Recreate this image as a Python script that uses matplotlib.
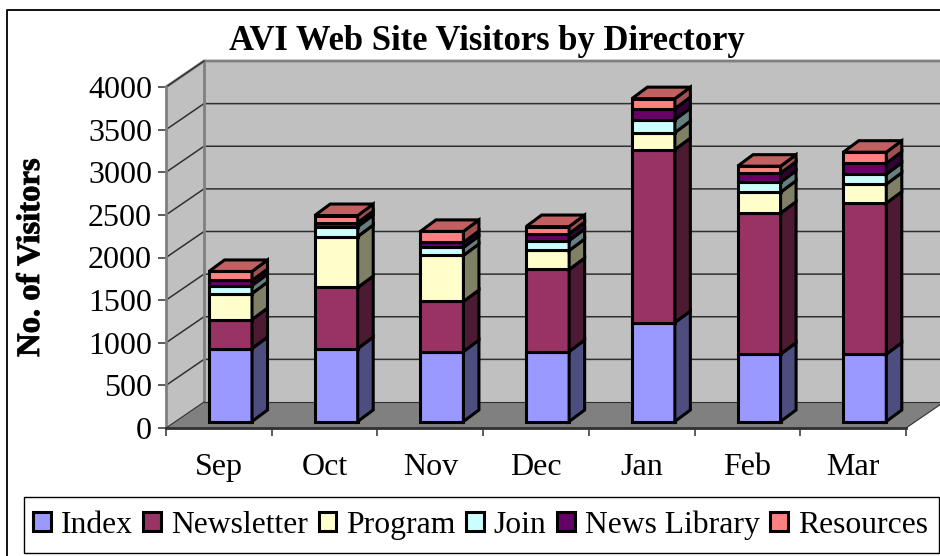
import matplotlib
matplotlib.use("Agg")
import matplotlib.pyplot as plt
import matplotlib.patheffects as pe
import numpy as np
from matplotlib.lines import Line2D
from matplotlib.patches import Patch, Polygon, Rectangle

plt.rcParams["font.family"] = ["Liberation Serif", "DejaVu Serif"]

months = ["Sep", "Oct", "Nov", "Dec", "Jan", "Feb", "Mar"]
index_vals = [856, 856, 821, 821, 1161, 790, 790]
newsletter = [340, 716, 587, 962, 2029, 1654, 1771]
program = [305, 598, 540, 223, 199, 246, 223]
join = [94, 117, 94, 117, 152, 117, 117]
news_library = [59, 47, 59, 82, 129, 106, 129]
resources = [106, 82, 129, 82, 117, 82, 129]

series_names = ["Index", "Newsletter", "Program", "Join", "News Library", "Resources"]
series_vals = [index_vals, newsletter, program, join, news_library, resources]
front_colors = ["#9999FF", "#993366", "#FFFFCC", "#CCFFFF", "#660066", "#FF8080"]
side_colors = ["#4D4D80", "#4D1A33", "#808066", "#668080", "#330033", "#A05050"]
top_color = "#C06060"

W, H = 940, 556
PX_X = 740 / 7       # pixels per category
PX_Y = 341 / 4000    # pixels per visitor

# 3d depth of the box and the bars, in data units
DX = 38 / PX_X
DY = 26 / PX_Y
BAR_W = 43 / PX_X
BAR_SHIFT_X = 11.65 / PX_X
BAR_SHIFT_Y = 6.5 / PX_Y
BAR_DX = 15.5 / PX_X
BAR_DY = 11.5 / PX_Y

fig = plt.figure(figsize=(W / 100, H / 100), dpi=100, facecolor="white")
ax = fig.add_axes([166 / W, (H - 428) / H, 740 / W, 341 / H])
ax.set_xlim(0, 7)
ax.set_ylim(0, 4000)
ax.patch.set_visible(False)
for s in ax.spines.values():
    s.set_visible(False)

# walls and floor
ax.add_patch(Polygon([(DX, DY), (7 + DX, DY), (7 + DX, 4000 + DY), (DX, 4000 + DY)],
                     fc="#C0C0C0", ec="none", clip_on=False, zorder=1))
ax.add_patch(Polygon([(0, 0), (DX, DY), (DX, 4000 + DY), (0, 4000)],
                     fc="#C0C0C0", ec="none", clip_on=False, zorder=1))
ax.add_patch(Polygon([(0, 0), (7, 0), (7 + DX, DY), (DX, DY)],
                     fc="#808080", ec="none", clip_on=False, zorder=1))

# gridlines
for v in range(500, 4000, 500):
    ax.plot([0, DX, 7 + DX], [v, v + DY, v + DY], color="#303030", lw=1.1,
            clip_on=False, zorder=2)

gray = "#808080"
ax.plot([DX, DX], [DY, 4000 + DY], color=gray, lw=2, clip_on=False, zorder=2)
ax.plot([0, DX, 7 + DX], [4000, 4000 + DY, 4000 + DY], color=gray, lw=2, clip_on=False, zorder=2)
ax.plot([0, DX], [4000, 4000 + DY], color="#303030", lw=1, clip_on=False, zorder=2)
ax.plot([0, 0], [0, 4000], color=gray, lw=2, clip_on=False, zorder=2)
ax.plot([DX, 7 + DX], [DY, DY], color="#303030", lw=0.8, clip_on=False, zorder=2)
ax.plot([0, DX], [0, DY], color="#303030", lw=0.8, clip_on=False, zorder=2)
ax.plot([7, 7 + DX], [0, DY], color="#303030", lw=0.8, clip_on=False, zorder=2)
ax.plot([0, 7], [0, 0], color="#303030", lw=2, clip_on=False, zorder=2)

# stacked 3d bars
edge = dict(ec="black", lw=2.2, joinstyle="miter", clip_on=False, zorder=3)
for i in range(len(months)):
    x0 = i + 0.5 + BAR_SHIFT_X - BAR_W / 2
    x1 = x0 + BAR_W
    base = BAR_SHIFT_Y
    for vals, fc, sc in zip(series_vals, front_colors, side_colors):
        y0, y1 = base, base + vals[i]
        ax.add_patch(Polygon([(x0, y0), (x1, y0), (x1, y1), (x0, y1)], fc=fc, **edge))
        ax.add_patch(Polygon([(x1, y0), (x1 + BAR_DX, y0 + BAR_DY),
                              (x1 + BAR_DX, y1 + BAR_DY), (x1, y1)], fc=sc, **edge))
        base = y1
    ax.add_patch(Polygon([(x0, base), (x1, base), (x1 + BAR_DX, base + BAR_DY),
                          (x0 + BAR_DX, base + BAR_DY)], fc=top_color, **edge))

# ticks
ax.set_yticks(np.arange(0, 4001, 500))
ax.set_xticks(np.arange(0, 8))
ax.set_xticklabels([])
ax.set_xticks(np.arange(7) + 0.5, months, minor=True)
ax.tick_params(axis="y", labelsize=23, length=6, width=1.1, color="#303030", pad=4)
ax.tick_params(axis="x", which="major", length=6, width=1.1, color="#303030")
ax.tick_params(axis="x", which="minor", labelsize=23, length=0, pad=18)

ylab = fig.text(30.5 / W, 1 - 258 / H, "No. of Visitors", rotation=90, fontsize=23.5,
                fontweight="bold", ha="center", va="center")
ylab.set_path_effects([pe.withStroke(linewidth=0.7, foreground="#222222")])
fig.text(486.5 / W, 1 - 42 / H, "AVI Web Site Visitors by Directory", fontsize=24.9,
         fontweight="bold", ha="center", va="center")

# outer frame, runs off the right and bottom of the picture
fig.add_artist(Line2D([7.5 / W, 7.5 / W, 1], [0, 1 - 9.5 / H, 1 - 9.5 / H],
                      color="black", lw=1.3))

# legend box is larger than the legend text, so it gets its own rectangle
fig.add_artist(Rectangle((23.5 / W, 1 - 553 / H), 915 / W, 56 / H, fc="white", ec="black",
                         lw=1, transform=fig.transFigure))
handles = [Patch(fc=c, ec="black", lw=2.2) for c in front_colors]
leg = fig.legend(handles, series_names, ncol=6, fontsize=22.8, loc="center left",
                 bbox_to_anchor=(33 / W, 1 - 525 / H), borderaxespad=0, borderpad=0,
                 frameon=False, handlelength=0.56, handleheight=0.56, handletextpad=0.31,
                 columnspacing=0.34)

fig.savefig("out.png", dpi=100)
